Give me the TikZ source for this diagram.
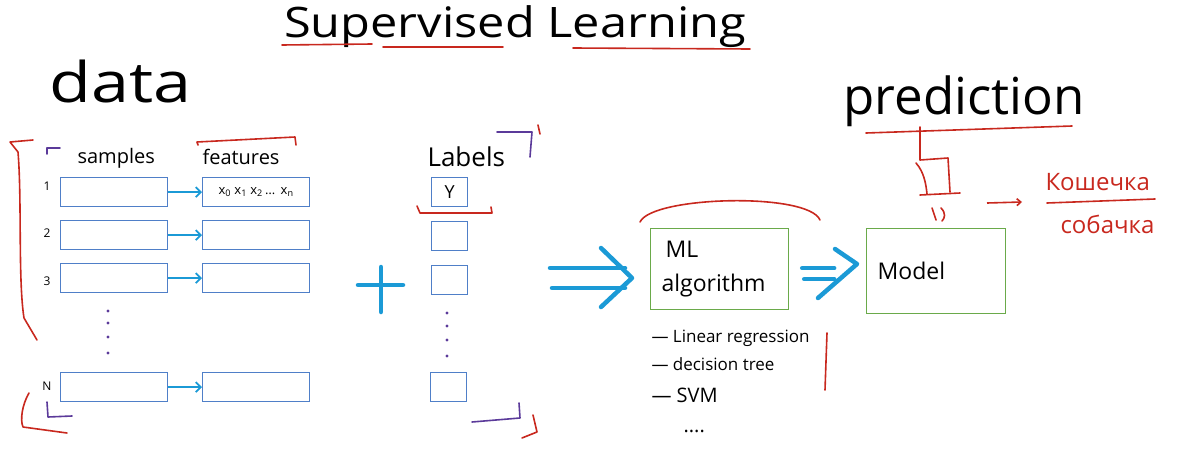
\documentclass[tikz,border=0pt]{standalone}
\usepackage{fontspec}
\setmainfont{Open Sans}
\newfontfamily\widefont[FakeStretch=1.22]{Open Sans}
\newfontfamily\titlefont[FakeStretch=1.16]{Open Sans}
\usetikzlibrary{arrows.meta,calc}
\definecolor{boxblue}{HTML}{4F7FC8}
\definecolor{arrblue}{HTML}{1B9AD6}
\definecolor{boxgreen}{HTML}{6AAA4A}
\definecolor{penred}{HTML}{C8281E}
\definecolor{penpurple}{HTML}{5B3A9A}
\begin{document}
\begin{tikzpicture}[x=1pt,y=-1pt,
  sbox/.style={draw=boxblue,line width=1.2pt,minimum width=107pt,minimum height=29pt,inner sep=0pt,anchor=north west},
  lbox/.style={draw=boxblue,line width=1.2pt,minimum width=36pt,minimum height=29pt,inner sep=0pt,anchor=north west},
  gbox/.style={draw=boxgreen,line width=1.2pt,anchor=north west,align=left,inner sep=0pt},
  redpen/.style={draw=penred,line width=1.6pt,line cap=round,line join=round},
  purppen/.style={draw=penpurple,line width=1.6pt,line cap=round,line join=round},
  blarrow/.style={draw=arrblue,line width=1.8pt,-{Straight Barb[length=5pt,width=10pt]}},
  bigarrow/.style={draw=arrblue,line width=4.5pt,line cap=round,line join=round},
  ink/.style={anchor=base west,text=black},
  redink/.style={anchor=base west,text=penred},
  num/.style={font=\fontsize{12}{14}\selectfont}
]
\useasboundingbox (0,0) rectangle (1178,450);

% title
\node[anchor=base,font=\titlefont\fontsize{42}{50}\selectfont] (title) at (515,37) {Supervised Learning};
\draw[redpen] (282,45) -- (372,44);
\draw[redpen] (383,47) -- (503,47);
\draw[redpen] (573,48) -- (750,49);

% data
\node[ink,font=\widefont\fontsize{56}{60}\selectfont] (data) at (46,102) {data};

% brackets
\draw[redpen] (33,140) -- (10,142) -- (18,152) .. controls (22,200) and (18,280) .. (24,318) -- (37,340);
\draw[redpen] (29,393) .. controls (22,405) and (20,420) .. (23,427) -- (67,433);
\draw[purppen] (47,154) -- (47,148) -- (60,148);
\draw[purppen] (47,402) -- (48,417) -- (72,416);

% headers
\node[ink,font=\fontsize{20}{24}\selectfont] (samples) at (74,163) {samples};
\node[ink,font=\fontsize{20}{24}\selectfont] (features) at (199,164) {features};
\draw[redpen] (198,145) -- (197,142) -- (295,137) -- (296,145);

% rows
\node[sbox] (s1) at (60,177) {};
\node[sbox] (s2) at (60,220) {};
\node[sbox] (s3) at (60,263) {};
\node[sbox] (sN) at (60,372) {};
\node[sbox] (f1) at (202,177) {\fontsize{13}{15}\selectfont x\textsubscript{0} x\textsubscript{1} x\textsubscript{2}\,…\, x\textsubscript{n}};
\node[sbox] (f2) at (202,220) {};
\node[sbox] (f3) at (202,263) {};
\node[sbox] (fN) at (202,372) {};
\node[num] (n1) at (47,186) {1};
\node[num] (n2) at (47,233) {2};
\node[num] (n3) at (47,281) {3};
\node[num] (nN) at (47,386) {N};
\draw[blarrow] (s1.east) -- (f1.west);
\draw[blarrow] (s2.east) -- (f2.west);
\draw[blarrow] (s3.east) -- (f3.west);
\draw[blarrow] (sN.east) -- (fN.west);
\foreach \yy in {311,323,337,353} \fill[penpurple] (108,\yy) circle (1.6pt);

% plus
\draw[bigarrow] (358,285) -- (403,285);
\draw[bigarrow] (381,267) -- (381,312);

% labels
\node[ink,font=\fontsize{26}{30}\selectfont] (labels) at (424,166) {Labels};
\node[lbox,font=\fontsize{18}{20}\selectfont] (l1) at (431,177) {Y};
\node[lbox] (l2) at (431,221) {};
\node[lbox] (l3) at (431,265) {};
\node[lbox] (lN) at (430,372) {};
\foreach \yy in {313,326,340,356} \fill[penpurple] (447,\yy) circle (1.6pt);
\draw[redpen] (417,206) -- (420,213) -- (492,213) -- (491,207);
\draw[purppen] (497,132) -- (532,132) -- (530,157);
\draw[redpen] (538,125) -- (540,134);
\draw[purppen] (472,422) -- (520,418) -- (519,403);
\draw[redpen] (533,415) -- (537,432) -- (522,438);

% ML algorithm
\node[gbox,minimum width=138pt,minimum height=81pt,text width=124pt,font=\fontsize{23}{36}\selectfont] (ml) at (650,228) {\hspace*{8pt}ML\\[-2pt]\hspace*{4pt}algorithm};
\draw[redpen] (640,222) .. controls (652,196) and (808,192) .. (820,220);
\node[ink,font=\fontsize{17}{20}\selectfont] (i1) at (648,342) {— Linear regression};
\node[ink,font=\fontsize{17}{20}\selectfont] (i2) at (648,370) {— decision tree};
\node[ink,font=\fontsize{20}{24}\selectfont] (i3) at (648,402) {— SVM};
\node[ink,font=\fontsize{20}{24}\selectfont] (i4) at (680,432) {....};
\draw[redpen] (827,333) -- (825,390);

% big double arrow
\coordinate (a1s) at (550,268);
\coordinate (a1e) at (625,268);
\coordinate (a2s) at (552,288);
\coordinate (a2e) at (625,288);
\draw[bigarrow] (a1s) -- (a1e);
\draw[bigarrow] (a2s) -- (a2e);
\draw[bigarrow] (601,248) -- (632,278) -- (601,307);

% Model
\node[gbox,minimum width=139pt,minimum height=85pt,text width=125pt,font=\fontsize{23}{28}\selectfont] (model) at (866,228) {\hspace*{4pt}Model};
\coordinate (b1s) at ($(ml.east)+(13,-1)$);
\coordinate (b2s) at ($(ml.east)+(15,10)$);
\coordinate (b1e) at ($(ml.east)+(45,-1)$);
\coordinate (b2e) at ($(ml.east)+(45,10)$);
\draw[bigarrow] (b1s) -- (b1e);
\draw[bigarrow] (b2s) -- (b2e);
\draw[bigarrow] (835,249) -- (857,264) -- (818,298);

% prediction
\node[ink,font=\fontsize{51}{56}\selectfont] (pred) at (840,114) {prediction};
\draw[redpen] (866,133) -- (1072,126);
\draw[redpen] (920,127) -- (920,160) -- (948,158) -- (950,192);
\draw[redpen] (916,163) .. controls (924,172) and (926,184) .. (927,194);
\draw[redpen] (920,195) -- (960,193);
\draw[redpen] (932,208) -- (936,220);
\draw[redpen] (941,208) .. controls (946,213) and (945,218) .. (942,221);
\coordinate (ra1) at (987,203);
\coordinate (ra2) at (1022,202);
\draw[draw=penred,line width=1.6pt,-{Straight Barb[length=4pt,width=7pt]}] (ra1) -- (ra2);
\node[redink,font=\fontsize{24}{28}\selectfont] (cat) at (1042,190) {Кошечка};
\draw[redpen] (1047,203) -- (1155,199);
\node[redink,font=\fontsize{24}{28}\selectfont] (dog) at (1057,233) {собачка};
\end{tikzpicture}
\end{document}
